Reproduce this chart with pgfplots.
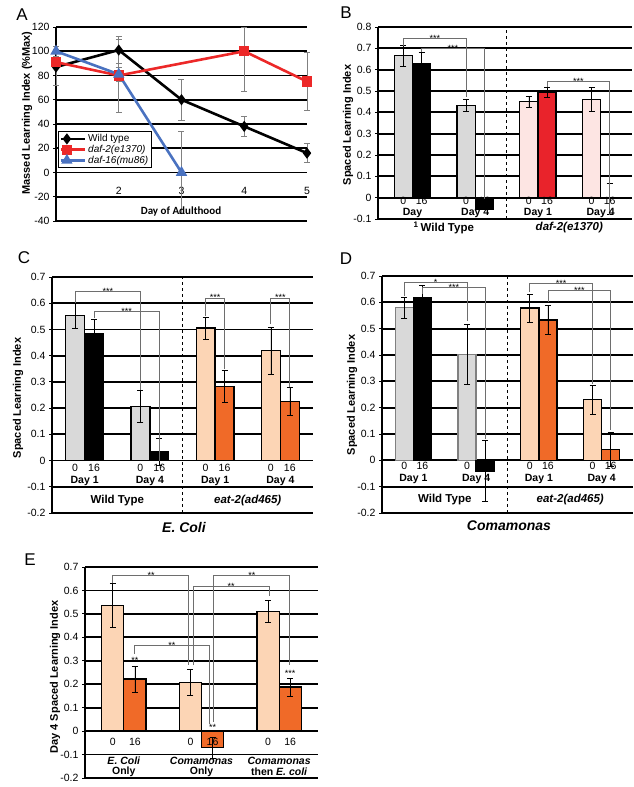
\documentclass[border=0pt]{standalone}
\usepackage{pgfplots}
\pgfplotsset{compat=1.18}
\usepackage{fontspec}
\setmainfont{Liberation Sans}
\newfontfamily\calibri{Carlito}
\definecolor{gbar}{RGB}{217,217,217}
\definecolor{pbar}{RGB}{253,229,227}
\definecolor{rbar}{RGB}{233,35,43}
\definecolor{cbar}{RGB}{252,213,181}
\definecolor{obar}{RGB}{240,106,40}
\definecolor{lred}{RGB}{236,40,40}
\definecolor{lblue}{RGB}{74,114,192}
\definecolor{brk}{RGB}{110,110,110}
\pgfplotsset{
  panel/.style={scale only axis, clip=false, anchor=south west,
    axis y line*=left, ymajorgrids,
    grid style={black,line width=1.8pt},
    axis line style={black,line width=1.8pt},
    tick align=outside, major tick length=3pt,
    ytick style={black,line width=0.8pt},
    tick label style={font=\fontsize{10.5}{11}\selectfont},
    /pgf/number format/assume math mode=true,
    yticklabel style={/pgf/number format/fixed,/pgf/number format/precision=1},
  },
  barpanel/.style={panel, axis x line=none},
  bp/.style={ybar, bar width=0.29, bar shift=0pt, draw=black, line width=1.3pt,
    error bars/y dir=both, error bars/y explicit,
    error bars/error bar style={black,line width=0.6pt},
    error bars/error mark options={rotate=90,mark size=3pt,black,line width=0.6pt}},
  ep/.style={error bars/y dir=both, error bars/y explicit,
    error bars/error bar style={gray,line width=0.6pt},
    error bars/error mark options={rotate=90,mark size=3pt,gray,line width=0.6pt}},
}
\newcommand{\brk}[5]{% x1,y1,ytop,x2,y2
  \draw[brk,line width=0.9pt] (axis cs:#1,#2)--(axis cs:#1,#3)--(axis cs:#4,#3)--(axis cs:#4,#5);}
\newcommand{\stars}[3]{\node[anchor=base,inner sep=0pt,yshift=-3pt,font=\fontsize{9}{9}\selectfont] at (axis cs:#1,#2) {#3};}
\newcommand{\lab}[3]{\node[inner sep=1pt,font=\fontsize{10.5}{11}\selectfont,yshift=#3] at (axis cs:#1,0) {#2};}
\newcommand{\zs}[3]{\lab{#1}{0}{#3}\lab{#2}{16}{#3}}
\newcommand{\blab}[3]{\node[inner sep=1pt,font=\bfseries\fontsize{10.5}{11}\selectfont,yshift=#3] at (axis cs:#1,0) {#2};}
\begin{document}
\begin{tikzpicture}[x=1pt,y=1pt]
\useasboundingbox (0,0) rectangle (633,787);
% ---------------- A
\begin{axis}[panel, at={(56pt,566pt)}, width=251pt, height=194pt,
  xmin=1, xmax=5, ymin=-40, ymax=120, ytick={-40,-20,...,120},
  yticklabel style={/pgf/number format/precision=0},
  axis x line*=middle, xtick={1,2,3,4,5}, xtick style={draw=none},
  xticklabel style={yshift=-8pt},
  legend style={at={(0.008,0.464)}, anchor=north west, draw=black, line width=1.2pt,
    font=\fontsize{10}{11}\selectfont, inner sep=1pt, row sep=-2pt, cells={anchor=west}},
  legend image code/.code={\draw[#1] (0pt,0pt)--(12pt,0pt) plot coordinates {(6pt,0pt)} (12pt,0pt)--(24pt,0pt);},
  ]
\addplot[black, line width=2.6pt, mark=diamond*, mark size=3.5pt, ep]
  coordinates {(1,87) +- (0,15) (2,101) +- (0,11) (3,60) +- (0,17) (4,38) +- (0,8) (5,16) +- (0,8)};
\addlegendentry{Wild type}
\addplot[lred, line width=2.6pt, mark=square*, mark size=3.8pt, ep]
  coordinates {(1,91) +- (0,5) (2,80) +- (0,30) (4,100) += (0,20) -= (0,33) (5,75) +- (0,24)};
\addlegendentry{\itshape daf-2(e1370)}
\addplot[lblue, line width=2.6pt, mark=triangle*, mark size=4pt, ep]
  coordinates {(1,100) +- (0,4) (2,81) +- (0,6) (3,0) +- (0,34)};
\addlegendentry{\itshape daf-16(mu86)}
\end{axis}
% ---------------- B
\begin{axis}[barpanel, at={(378pt,568pt)}, width=254pt, height=192pt,
  xmin=0.45, xmax=4.5, ymin=-0.1, ymax=0.8,
  ytick={-0.1,0,0.1,0.2,0.3,0.4,0.5,0.6,0.7,0.8}]
\addplot[bp, fill=gbar] coordinates {(0.855,0.665) +- (0,0.047) (1.855,0.433) +- (0,0.03)};
\addplot[bp, fill=black] coordinates {(1.145,0.63) +- (0,0.05) (2.145,-0.055) +- (0,0)};
\addplot[bp, fill=pbar] coordinates {(2.855,0.45) +- (0,0.025) (3.855,0.46) +- (0,0.055)};
\addplot[bp, fill=rbar] coordinates {(3.145,0.492) +- (0,0.023) (4.145,-0.005) +- (0,0.072)};
\draw[black, dashed, line width=0.6pt] (axis cs:2.5,-0.1)--(axis cs:2.5,0.8);
\brk{0.855}{0.712}{0.745}{1.855}{0.47}\stars{1.355}{0.745}{***}
\brk{1.145}{0.685}{0.70}{2.145}{-0.005}\stars{1.645}{0.70}{***}
\brk{3.145}{0.52}{0.545}{4.145}{-0.08}\stars{3.645}{0.545}{***}
\zs{0.855}{1.145}{-3.5pt}\zs{1.855}{2.145}{-3.5pt}\zs{2.855}{3.145}{-3.5pt}\zs{3.855}{4.145}{-3.5pt}
\blab{1}{Day}{-15pt}\blab{2}{Day 4}{-15pt}\blab{3}{Day 1}{-15pt}\blab{4}{Day 4}{-15pt}
\node[font=\bfseries\fontsize{11.5}{12}\selectfont,yshift=-30pt] at (axis cs:1.5,0) {\textsuperscript{1}\,Wild Type};
\node[font=\bfseries\itshape\fontsize{11.5}{12}\selectfont,yshift=-30pt] at (axis cs:3.5,0) {daf-2(e1370)};
\end{axis}
% ---------------- C
\begin{axis}[barpanel, at={(52pt,274pt)}, width=261pt, height=236pt,
  xmin=0.5, xmax=4.5, ymin=-0.2, ymax=0.7,
  ytick={-0.2,-0.1,0,0.1,0.2,0.3,0.4,0.5,0.6,0.7}]
\addplot[bp, fill=gbar] coordinates {(0.855,0.553) +- (0,0.05) (1.855,0.207) +- (0,0.06)};
\addplot[bp, fill=black] coordinates {(1.145,0.485) +- (0,0.055) (2.145,0.033) +- (0,0.053)};
\addplot[bp, fill=cbar] coordinates {(2.855,0.505) +- (0,0.042) (3.855,0.42) +- (0,0.09)};
\addplot[bp, fill=obar] coordinates {(3.145,0.283) +- (0,0.062) (4.145,0.226) +- (0,0.055)};
\draw[black, dashed, line width=0.6pt] (axis cs:2.5,-0.2)--(axis cs:2.5,0.7);
\brk{0.855}{0.60}{0.645}{1.855}{0.27}\stars{1.355}{0.645}{***}
\brk{1.145}{0.545}{0.57}{2.145}{0.0}\stars{1.645}{0.57}{***}
\brk{2.855}{0.55}{0.62}{3.145}{0.35}\stars{3.0}{0.62}{***}
\brk{3.855}{0.52}{0.62}{4.145}{0.28}\stars{4.0}{0.62}{***}
\zs{0.855}{1.145}{-7pt}\zs{1.855}{2.145}{-7pt}\zs{2.855}{3.145}{-7pt}\zs{3.855}{4.145}{-7pt}
\blab{1}{Day 1}{-20pt}\blab{2}{Day 4}{-20pt}\blab{3}{Day 1}{-20pt}\blab{4}{Day 4}{-20pt}
\node[font=\bfseries\fontsize{11.5}{12}\selectfont,yshift=-40pt] at (axis cs:1.5,0) {Wild Type};
\node[font=\bfseries\itshape\fontsize{11.5}{12}\selectfont,yshift=-40pt] at (axis cs:3.5,0) {eat-2(ad465)};
\end{axis}
% ---------------- D
\begin{axis}[barpanel, at={(382pt,274pt)}, width=251pt, height=237pt,
  xmin=0.5, xmax=4.5, ymin=-0.2, ymax=0.7,
  ytick={-0.2,-0.1,0,0.1,0.2,0.3,0.4,0.5,0.6,0.7}]
\addplot[bp, fill=gbar, draw=gray] coordinates {(0.855,0.58) +- (0,0.04) (1.855,0.403) +- (0,0.113)};
\addplot[bp, fill=black] coordinates {(1.145,0.617) +- (0,0.047) (2.145,-0.04) +- (0,0.115)};
\addplot[bp, fill=cbar] coordinates {(2.855,0.578) +- (0,0.052) (3.855,0.23) +- (0,0.055)};
\addplot[bp, fill=obar] coordinates {(3.145,0.533) +- (0,0.055) (4.145,0.042) +- (0,0.065)};
\draw[black, dashed, line width=0.6pt] (axis cs:2.5,-0.2)--(axis cs:2.5,0.7);
\brk{0.855}{0.625}{0.675}{1.855}{0.53}\stars{1.355}{0.675}{*}
\brk{1.145}{0.633}{0.655}{2.145}{0.08}\stars{1.645}{0.655}{***}
\brk{2.855}{0.64}{0.673}{3.855}{0.29}\stars{3.355}{0.673}{***}
\brk{3.145}{0.60}{0.645}{4.145}{0.115}\stars{3.645}{0.645}{***}
\zs{0.855}{1.145}{-6pt}\zs{1.855}{2.145}{-6pt}\zs{2.855}{3.145}{-6pt}\zs{3.855}{4.145}{-6pt}
\blab{1}{Day 1}{-19pt}\blab{2}{Day 4}{-19pt}\blab{3}{Day 1}{-19pt}\blab{4}{Day 4}{-19pt}
\node[font=\bfseries\fontsize{11.5}{12}\selectfont,yshift=-39pt] at (axis cs:1.5,0) {Wild Type};
\node[font=\bfseries\itshape\fontsize{11.5}{12}\selectfont,yshift=-39pt] at (axis cs:3.5,0) {eat-2(ad465)};
\end{axis}
% ---------------- E
\begin{axis}[barpanel, at={(85pt,9pt)}, width=233pt, height=211pt,
  xmin=0.5, xmax=3.5, ymin=-0.2, ymax=0.7,
  ytick={-0.2,-0.1,0,0.1,0.2,0.3,0.4,0.5,0.6,0.7}]
\addplot[bp, bar width=0.285, fill=cbar] coordinates {(0.8575,0.537) +- (0,0.095) (1.8575,0.208) +- (0,0.054) (2.8575,0.51) +- (0,0.046)};
\addplot[bp, bar width=0.285, fill=obar] coordinates {(1.1425,0.222) +- (0,0.056) (2.1425,-0.07) +- (0,0.045) (3.1425,0.188) +- (0,0.038)};
\brk{0.8575}{0.63}{0.665}{1.83}{0.28}\stars{1.35}{0.665}{**}
\brk{1.90}{0.28}{0.615}{2.87}{0.575}\stars{2.38}{0.615}{**}
\brk{2.16}{0.04}{0.665}{3.13}{0.28}\stars{2.65}{0.665}{**}
\brk{1.1425}{0.33}{0.367}{2.10}{0.03}\stars{1.62}{0.367}{**}
\stars{1.1425}{0.30}{**}\stars{2.1425}{0.015}{**}\stars{3.1425}{0.245}{***}
\zs{0.8575}{1.1425}{-11pt}\zs{1.8575}{2.1425}{-11pt}\zs{2.8575}{3.1425}{-11pt}
\blab{1}{\itshape E. Coli}{-30pt}\blab{1}{Only}{-41pt}
\blab{2}{\itshape Comamonas}{-30pt}\blab{2}{Only}{-41pt}
\blab{3}{\itshape Comamonas}{-30pt}\blab{3}{then \itshape E. coli}{-41pt}
\end{axis}
% ---------------- absolute texts
\node[font=\fontsize{17}{18}\selectfont] at (22,772) {A};
\node[font=\fontsize{17}{18}\selectfont] at (346,774) {B};
\node[font=\fontsize{17}{18}\selectfont] at (24,529) {C};
\node[font=\fontsize{17}{18}\selectfont] at (346,528) {D};
\node[font=\fontsize{17}{18}\selectfont] at (30,227) {E};
\node[rotate=90,font=\bfseries\fontsize{11}{12}\selectfont] at (27,674) {Massed Learning Index (\%Max)};
\node[rotate=90,font=\bfseries\fontsize{11}{12}\selectfont] at (348,662) {Spaced Learning Index};
\node[rotate=90,font=\bfseries\fontsize{11}{12}\selectfont] at (18,389) {Spaced Learning Index};
\node[rotate=90,font=\bfseries\fontsize{11}{12}\selectfont] at (352,392) {Spaced Learning Index};
\node[rotate=90,font=\bfseries\fontsize{11}{12}\selectfont] at (55,110) {Day 4 Spaced Learning Index};
\node[font=\calibri\bfseries\fontsize{11}{12}\selectfont] at (181,575) {Day of Adulthood};
\node[font=\bfseries\itshape\fontsize{14}{15}\selectfont] at (184,260) {E. Coli};
\node[font=\bfseries\itshape\fontsize{14}{15}\selectfont] at (509,261) {Comamonas};
\end{tikzpicture}
\end{document}
